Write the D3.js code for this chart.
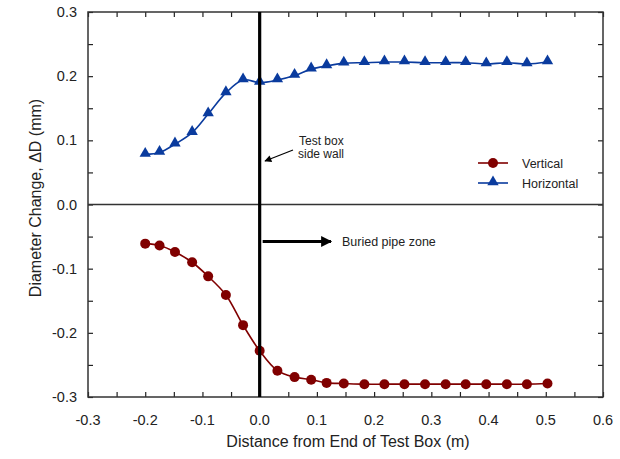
<!DOCTYPE html>
<html>
<head>
<meta charset="utf-8">
<script src="https://cdn.jsdelivr.net/npm/d3@7"></script>
<style>
  html, body { margin: 0; padding: 0; background: #fff; }
  svg { display: block; font-family: Arial, "Liberation Sans", Helvetica, sans-serif; }
</style>
</head>
<body>
<svg id="chart" width="620" height="459"></svg>
<script>
// Measurement positions along the pipe (m)
const distance = [-0.2, -0.175, -0.148, -0.118, -0.09, -0.059, -0.029, 0.0, 0.031, 0.061, 0.09,
                  0.117, 0.147, 0.183, 0.218, 0.253, 0.289, 0.325, 0.36, 0.396, 0.432, 0.467, 0.503];
// Diameter change, vertical direction (mm)
const vertical = [-0.061, -0.064, -0.074, -0.090, -0.112, -0.141, -0.188, -0.228, -0.259, -0.269, -0.273,
                  -0.278, -0.279, -0.280, -0.280, -0.280, -0.280, -0.280, -0.280, -0.280, -0.280, -0.280, -0.279];
// Diameter change, horizontal direction (mm)
const horizontal = [0.078, 0.081, 0.094, 0.112, 0.141, 0.174, 0.194, 0.190, 0.194, 0.201, 0.211,
                    0.216, 0.220, 0.221, 0.222, 0.222, 0.221, 0.221, 0.221, 0.219, 0.221, 0.219, 0.222];
const xTicks = [-0.3, -0.2, -0.1, 0.0, 0.1, 0.2, 0.3, 0.4, 0.5, 0.6];
const yTicks = [-0.3, -0.2, -0.1, 0.0, 0.1, 0.2, 0.3];
const seriesNames = ["Vertical", "Horizontal"];
const colors = { Vertical: "#800000", Horizontal: "#0a3b9e" };

const svg = d3.select("#chart");
const m = { left: 88, top: 12, right: 603, bottom: 397 };

const x = d3.scaleLinear().domain([-0.3, 0.6]).range([m.left, m.right]);
const y = d3.scaleLinear().domain([-0.3, 0.3]).range([m.bottom, m.top]);

const fmt = v => {
  const s = Math.abs(v).toFixed(1);
  return v < -1e-9 ? "-" + s : s;
};

// minor ticks every 0.05, both axes, drawn inward on all four sides
const xMinor = d3.range(-0.3, 0.6001, 0.05).map(v => +v.toFixed(2));
const yMinor = d3.range(-0.3, 0.3001, 0.05).map(v => +v.toFixed(2));
const tickLen = 5;

const axes = svg.append("g").attr("class", "axes");
axes.append("g").attr("transform", `translate(0,${m.bottom})`)
  .call(d3.axisBottom(x).tickValues(xMinor).tickSizeInner(-tickLen).tickSizeOuter(0).tickFormat(""));
axes.append("g").attr("transform", `translate(0,${m.top})`)
  .call(d3.axisTop(x).tickValues(xMinor).tickSizeInner(-tickLen).tickSizeOuter(0).tickFormat(""));
axes.append("g").attr("transform", `translate(${m.left},0)`)
  .call(d3.axisLeft(y).tickValues(yMinor).tickSizeInner(-tickLen).tickSizeOuter(0).tickFormat(""));
axes.append("g").attr("transform", `translate(${m.right},0)`)
  .call(d3.axisRight(y).tickValues(yMinor).tickSizeInner(-tickLen).tickSizeOuter(0).tickFormat(""));
axes.selectAll(".domain").remove();
axes.selectAll(".tick line").attr("stroke", "#222").attr("stroke-width", 1.2);

// tick labels
svg.append("g").selectAll("text").data(xTicks).join("text")
  .attr("x", d => x(d)).attr("y", 425)
  .attr("text-anchor", "middle").attr("font-size", 14.5).attr("fill", "#222")
  .text(fmt);
svg.append("g").selectAll("text").data(yTicks).join("text")
  .attr("x", 77).attr("y", d => y(d) + 5)
  .attr("text-anchor", "end").attr("font-size", 14.5).attr("fill", "#222")
  .text(fmt);

// plot frame
svg.append("rect")
  .attr("x", m.left).attr("y", m.top)
  .attr("width", m.right - m.left).attr("height", m.bottom - m.top)
  .attr("fill", "none").attr("stroke", "#333").attr("stroke-width", 1.5);

// zero line
svg.append("line")
  .attr("x1", m.left).attr("x2", m.right).attr("y1", y(0)).attr("y2", y(0))
  .attr("stroke", "#333").attr("stroke-width", 1.6);

// axis titles
svg.append("text")
  .attr("x", 348).attr("y", 447)
  .attr("text-anchor", "middle").attr("font-size", 16).attr("fill", "#222")
  .text("Distance from End of Test Box (m)");
svg.append("text")
  .attr("transform", "translate(41,198) rotate(-90)")
  .attr("text-anchor", "middle").attr("font-size", 16).attr("fill", "#222")
  .text("Diameter Change, \u0394D (mm)");

// data series
const line = d3.line().x(d => x(d[0])).y(d => y(d[1])).curve(d3.curveCatmullRom.alpha(0.5));
const vertData = distance.map((d, i) => [d, vertical[i]]);
const horzData = distance.map((d, i) => [d, horizontal[i]]);

const plot = svg.append("g");
plot.append("path").datum(horzData).attr("d", line)
  .attr("fill", "none").attr("stroke", colors.Horizontal).attr("stroke-width", 1.6);
plot.append("path").datum(vertData).attr("d", line)
  .attr("fill", "none").attr("stroke", colors.Vertical).attr("stroke-width", 1.6);

const tri = d3.symbol().type(d3.symbolTriangle).size(56);
plot.selectAll("path.tri").data(horzData).join("path").attr("class", "tri")
  .attr("d", tri)
  .attr("transform", d => `translate(${x(d[0])},${y(d[1]) - 1})`)
  .attr("fill", colors.Horizontal);
plot.selectAll("circle.pt").data(vertData).join("circle").attr("class", "pt")
  .attr("cx", d => x(d[0])).attr("cy", d => y(d[1])).attr("r", 5)
  .attr("fill", colors.Vertical);

// test box side wall
svg.append("line")
  .attr("x1", x(0)).attr("x2", x(0)).attr("y1", m.top).attr("y2", m.bottom)
  .attr("stroke", "#000").attr("stroke-width", 3.2);

// arrowheads
const defs = svg.append("defs");
defs.append("marker").attr("id", "headThin")
  .attr("viewBox", "0 0 10 10").attr("refX", 9).attr("refY", 5)
  .attr("markerWidth", 10).attr("markerHeight", 7).attr("markerUnits", "userSpaceOnUse")
  .attr("orient", "auto")
  .append("path").attr("d", "M0,0 L10,5 L0,10 Z").attr("fill", "#000");
defs.append("marker").attr("id", "headThick")
  .attr("viewBox", "0 0 10 10").attr("refX", 9).attr("refY", 5)
  .attr("markerWidth", 12).attr("markerHeight", 11).attr("markerUnits", "userSpaceOnUse")
  .attr("orient", "auto")
  .append("path").attr("d", "M0,0 L10,5 L0,10 Z").attr("fill", "#000");

// side wall annotation
svg.append("line")
  .attr("x1", 293).attr("y1", 150).attr("x2", 265).attr("y2", 161)
  .attr("stroke", "#000").attr("stroke-width", 1.2).attr("marker-end", "url(#headThin)");
const wallNote = svg.append("text").attr("font-size", 12).attr("fill", "#222");
wallNote.append("tspan").attr("x", 299).attr("y", 145).text("Test box");
wallNote.append("tspan").attr("x", 298).attr("y", 158).text("side wall");

// buried pipe zone annotation
svg.append("line")
  .attr("x1", x(0) + 3).attr("y1", 241.5).attr("x2", 331).attr("y2", 241.5)
  .attr("stroke", "#000").attr("stroke-width", 3).attr("marker-end", "url(#headThick)");
svg.append("text").attr("x", 342).attr("y", 246)
  .attr("font-size", 12.5).attr("fill", "#222").text("Buried pipe zone");

// legend
const legend = svg.append("g").attr("transform", "translate(478,163)");
seriesNames.forEach((name, i) => {
  const g = legend.append("g").attr("transform", `translate(0,${i * 20})`);
  g.append("line").attr("x1", 0).attr("x2", 30).attr("y1", 0).attr("y2", 0)
    .attr("stroke", colors[name]).attr("stroke-width", 1.6);
  if (name === "Vertical") {
    g.append("circle").attr("cx", 15).attr("cy", 0).attr("r", 5).attr("fill", colors[name]);
  } else {
    g.append("path").attr("d", tri).attr("transform", "translate(15,-1)").attr("fill", colors[name]);
  }
  g.append("text").attr("x", 44).attr("y", 4.5).attr("font-size", 12.5).attr("fill", "#222").text(name);
});
</script>
</body>
</html>
